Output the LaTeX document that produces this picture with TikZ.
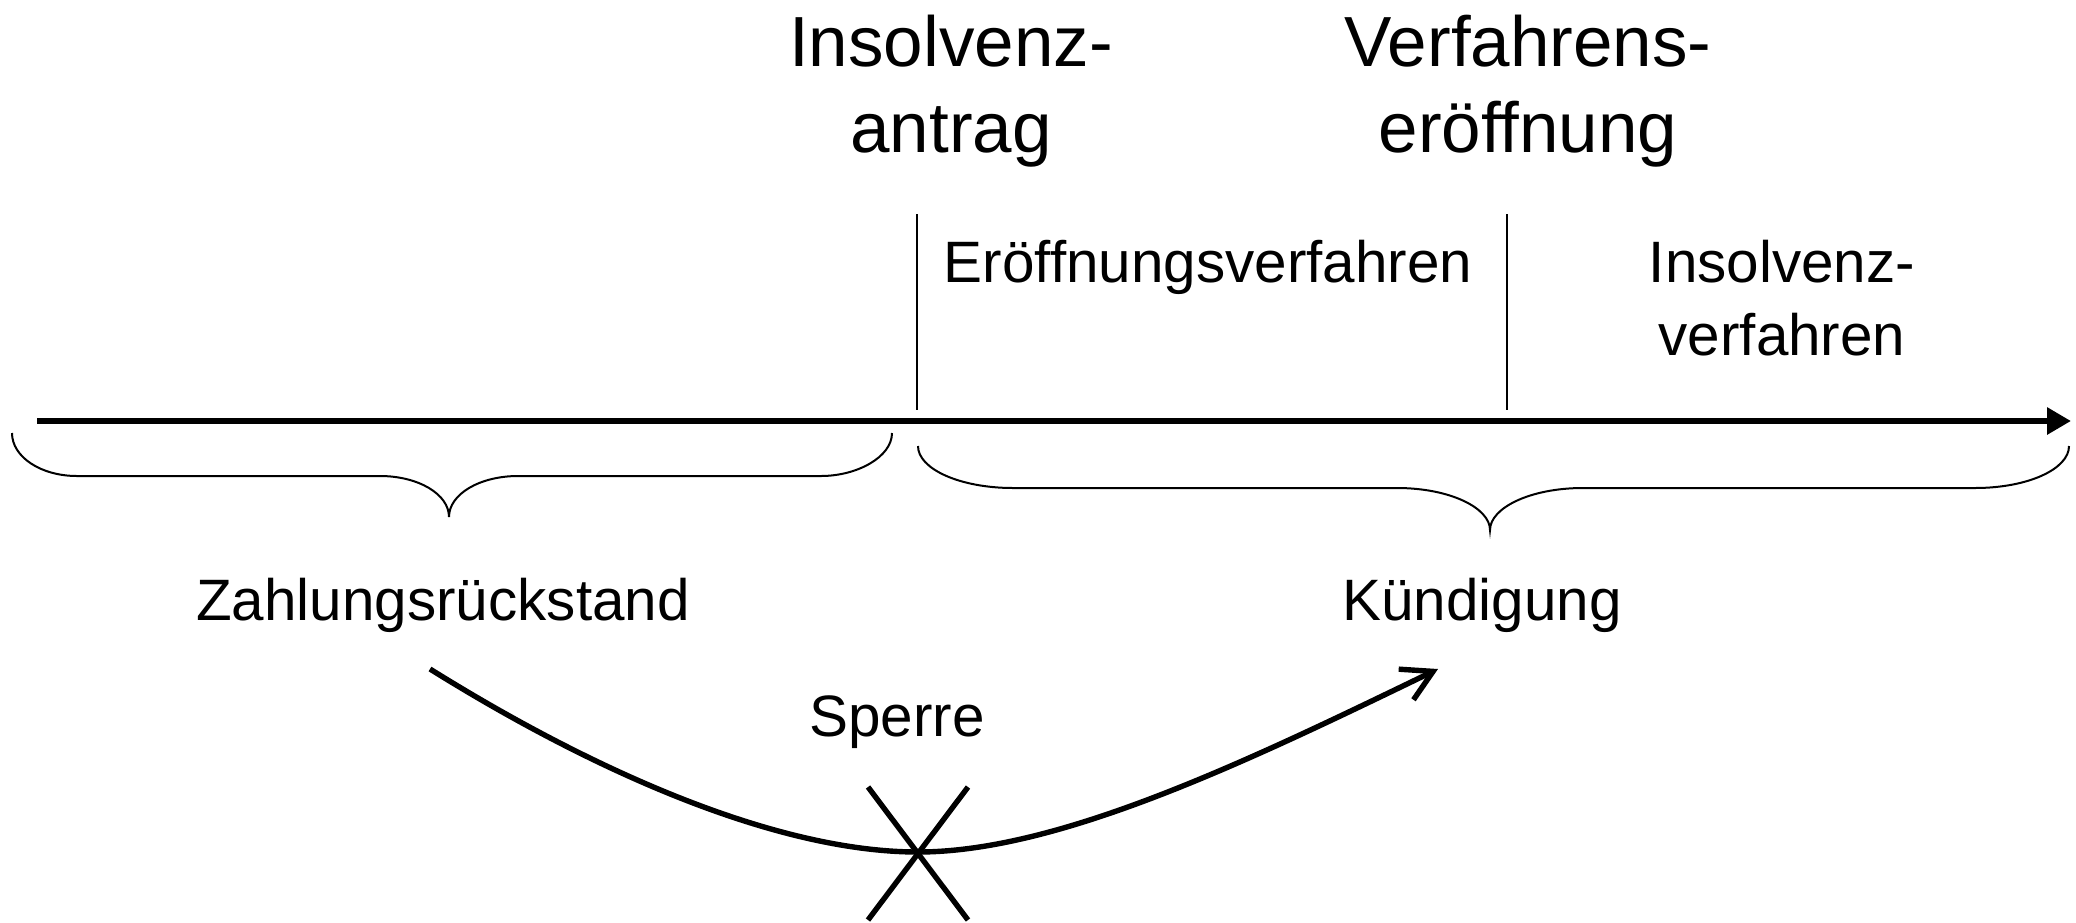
\documentclass[tikz,border=0pt]{standalone}
\usepackage{fontspec}
\setmainfont{Liberation Sans}
\usetikzlibrary{arrows.meta}
\begin{document}
\begin{tikzpicture}[x=0.5pt,y=-0.5pt,
 big/.style={font=\fontsize{35.5}{43}\selectfont, align=center, inner sep=0pt, anchor=base},
 lbl/.style={font=\fontsize{29.2}{36.5}\selectfont, align=center, inner sep=0pt, anchor=base},
 axis/.style={line width=3pt, -{Triangle[length=12pt,width=13pt]}},
 tick/.style={line width=1pt},
 brace/.style={line width=1pt},
 flow/.style={line width=2.7pt, -{Straight Barb[length=15pt,width=17pt]}},
 cross/.style={line width=2.7pt}]
\useasboundingbox (0,0) rectangle (2076,922);
% axis
\coordinate (a0) at (37,421);
\coordinate (a1) at (2071,421);
\draw[axis] (a0) -- (a1);
% ticks
\coordinate (t1a) at (917,214);
\coordinate (t1b) at (917,410);
\coordinate (t2a) at (1507,214);
\coordinate (t2b) at (1507,410);
\draw[tick] (t1a) -- (t1b);
\draw[tick] (t2a) -- (t2b);
% headings (base anchor = baseline of last line)
\node[big] (antrag) at (951,152) {Insolvenz-\\antrag};
\node[big] (eroeff) at (1528,152) {Verfahrens-\\eröffnung};
\node[lbl] (ev) at (1208,282) {Eröffnungsverfahren};
\node[lbl] (iv) at (1782,355) {Insolvenz-\\verfahren};
% braces
\draw[brace] (12,433) .. controls (12,457) and (41,476) .. (77,476) -- (380,476)
  .. controls (418,476) and (449,494) .. (449,517)
  .. controls (449,494) and (480,476) .. (518,476) -- (821,476)
  .. controls (857,476) and (892,457) .. (892,433);
\draw[brace] (918,446) .. controls (918,469) and (960,488) .. (1013,488) -- (1397,488)
  .. controls (1450,488) and (1490,508) .. (1490,530)
  .. controls (1490,508) and (1530,488) .. (1583,488) -- (1975,488)
  .. controls (2028,488) and (2069,469) .. (2069,446);
% labels
\node[lbl] (zr) at (443,620) {Zahlungsrückstand};
\node[lbl] (kd) at (1482,620) {Kündigung};
\node[lbl] (sp) at (897,736) {Sperre};
% flow
\coordinate (fs) at (430,669);
\coordinate (fm) at (918,852);
\coordinate (fe) at (1438,669);
\draw[flow] (fs) .. controls (600,775) and (780,852) .. (fm)
  .. controls (1060,852) and (1250,760) .. (fe);
% cross
\coordinate (c1) at (868,787);
\coordinate (c2) at (968,920);
\coordinate (c3) at (968,787);
\coordinate (c4) at (868,920);
\draw[cross] (c1) -- (c2);
\draw[cross] (c3) -- (c4);
\end{tikzpicture}
\end{document}
